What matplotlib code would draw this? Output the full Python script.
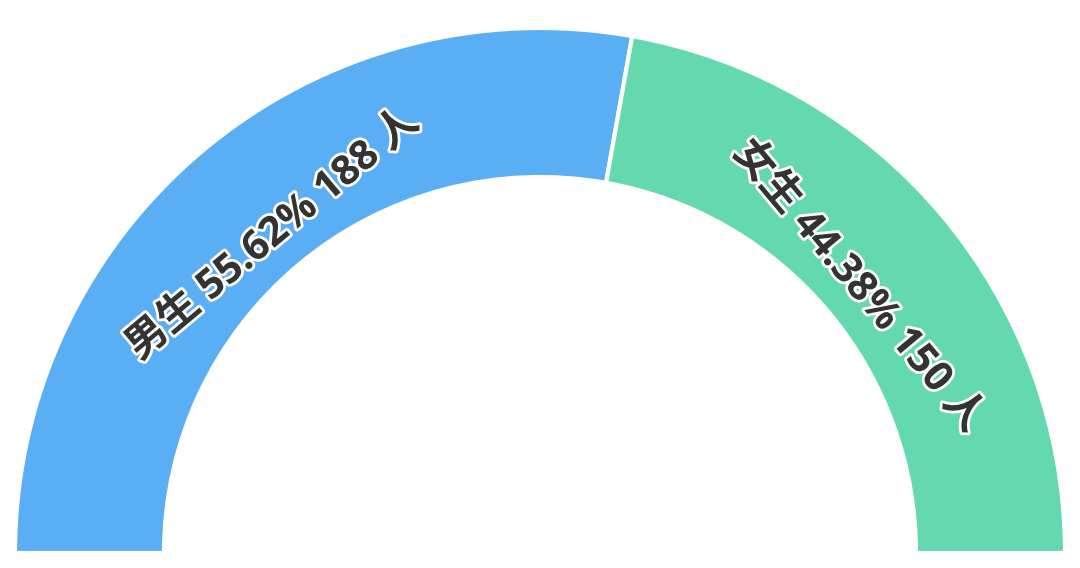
import numpy as np
import matplotlib
matplotlib.use("Agg")
from matplotlib import pyplot as plt
import matplotlib.patheffects as pe

plt.rcParams['font.family'] = ['Open Sans', 'Noto Sans CJK SC', 'DejaVu Sans']

# 数据
names = ['男生', '女生']
counts = [188, 150]
colors = ['#5AAEF4', '#64D9AE']

total = sum(counts)
pcts = [c / total * 100 for c in counts]

fig = plt.figure(figsize=(10.8, 5.68), dpi=100)
ax = fig.add_axes([0, 0, 1, 1])
ax.axis('off')

cx, cy = 540, 15
r_out, r_in = 525, 376

# 半环：多加一个隐藏的一半
wedges, _ = ax.pie(counts + [total], colors=colors + ['none'], radius=r_out,
                   center=(cx, cy), startangle=180, counterclock=False,
                   wedgeprops=dict(width=r_out - r_in, edgecolor='white', linewidth=3))
wedges[-1].set_edgecolor('none')
ax.set_xlim(0, 1080)
ax.set_ylim(0, 568)
ax.set_aspect('equal')

r_txt = 415
for w, n, p, c in zip(wedges[:2], names, pcts, counts):
    mid = (w.theta1 + w.theta2) / 2
    x = cx + r_txt * np.cos(np.radians(mid))
    y = cy + r_txt * np.sin(np.radians(mid))
    ax.text(x, y, f'{n} {p:.2f}% {c} 人', rotation=mid - 90,
            ha='center', va='center', fontsize=29.5, fontweight='bold', color='#333333',
            rotation_mode='anchor',
            path_effects=[pe.withStroke(linewidth=4, foreground='white')])

fig.savefig('out.png', dpi=100)
